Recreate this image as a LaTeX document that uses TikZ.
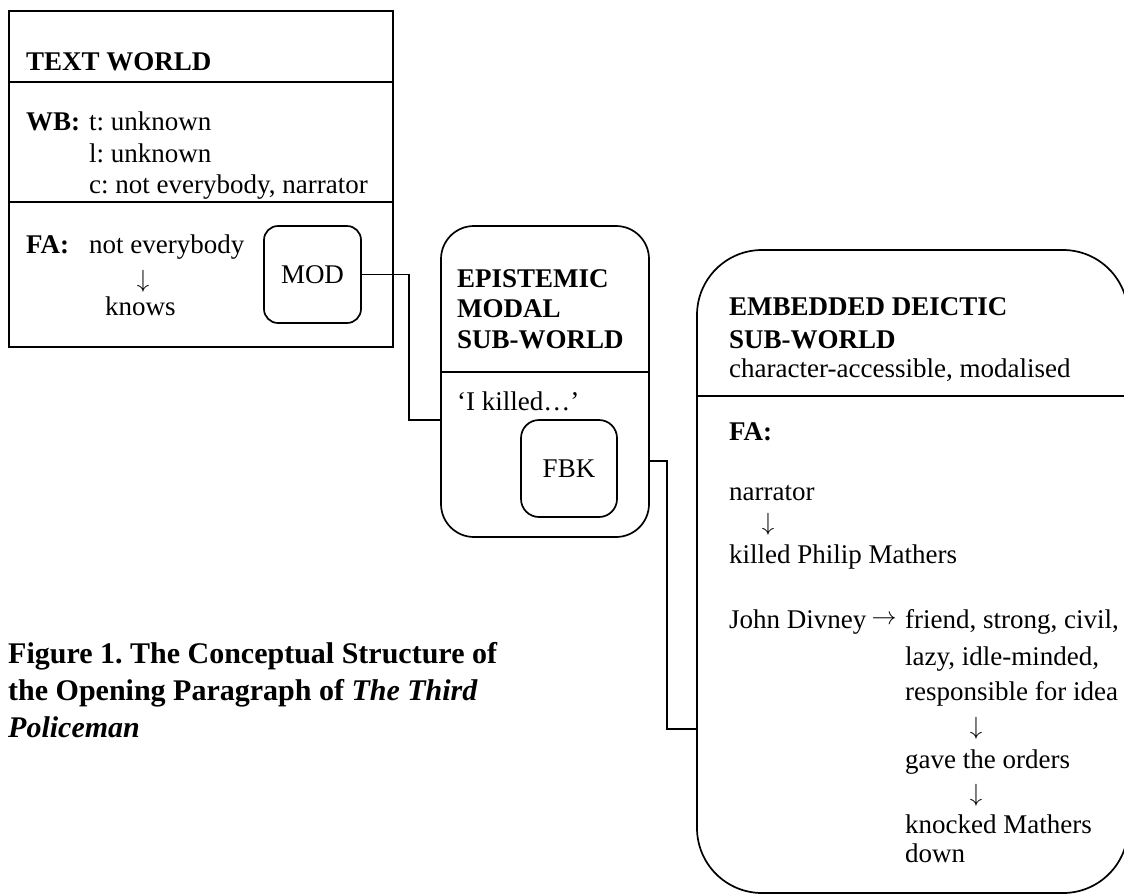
\documentclass[tikz,border=0pt]{standalone}
\usepackage{fontspec}
\setmainfont{Liberation Serif}
\frenchspacing
\tikzset{
  box/.style={draw, line width=1.7pt, inner sep=0pt},
  conn/.style={line width=1.6pt},
  divider/.style={line width=1.7pt},
  txt/.style={anchor=base west, inner sep=0pt, font=\fontsize{27}{31}\selectfont},
  hd/.style={anchor=base west, inner sep=0pt, font=\fontsize{27}{31}\selectfont\bfseries},
  arr/.style={inner sep=0pt, font=\fontsize{27}{31}\selectfont},
  captiontext/.style={anchor=base west, inner sep=0pt, font=\fontsize{30}{37}\selectfont\bfseries},
}
\begin{document}
\frenchspacing
\begin{tikzpicture}[x=1pt,y=-1pt]
\useasboundingbox (0,0) rectangle (1124,895);
\clip (0,0) rectangle (1124,895);

% ---------- TEXT WORLD ----------
\node[box, minimum width=384pt, minimum height=336pt] (tw) at (201,179) {};
\draw[divider] (tw.west |- 0,82) -- (tw.east |- 0,82);
\draw[divider] (tw.west |- 0,202) -- (tw.east |- 0,202);
\node[hd] (twh) at (26,70) {TEXT WORLD};
\node[hd] (wb) at (26,130) {WB:};
\node[txt] (wbt) at (89,130) {t: unknown};
\node[txt] (wbl) at (89,162) {l: unknown};
\node[txt] (wbc) at (89,193) {c: not everybody, narrator};
\node[hd] (fa1) at (26,253) {FA:};
\node[txt] (ne) at (89,253) {not everybody};
\node[arr, font=\fontsize{23}{27}\selectfont] (a1) at (143,281) {$\downarrow$};
\node[txt] (kn) at (105,315) {knows};
\node[box, rounded corners=14pt, minimum width=97pt, minimum height=97pt,
      font=\fontsize{27}{31}\selectfont] (mod) at (312.5,274.5) {MOD};

% ---------- EPISTEMIC MODAL SUB-WORLD ----------
\node[box, rounded corners=33pt, minimum width=208pt, minimum height=311pt] (epi) at (545,381.5) {};
\draw[divider] (epi.west |- 0,372) -- (epi.east |- 0,372);
\node[hd] (e1) at (457,287) {EPISTEMIC};
\node[hd] (e2) at (457,317) {MODAL};
\node[hd] (e3) at (457,348) {SUB-WORLD};
\node[txt] (ik) at (457,410) {‘I killed…’};
\node[box, rounded corners=18pt, minimum width=96pt, minimum height=97pt,
      font=\fontsize{27}{31}\selectfont] (fbk) at (569,468.5) {FBK};

% ---------- EMBEDDED DEICTIC SUB-WORLD ----------
\node[box, rounded corners=65pt, minimum width=431pt, minimum height=643pt] (emb) at (912.5,571.5) {};
\draw[divider] (emb.west |- 0,396) -- (emb.east |- 0,396);
\node[hd] (d1) at (729,315) {EMBEDDED DEICTIC};
\node[hd] (d2) at (729,348) {SUB-WORLD};
\node[txt] (d3) at (729,377) {character-accessible, modalised};
\node[hd] (fa2) at (729,440) {FA:};
\node[txt] (nar) at (729,500) {narrator};
\node[arr] (a2) at (768,524) {$\downarrow$};
\node[txt] (kpm) at (729,563) {killed Philip Mathers};
\node[txt] (jd) at (729,628) {John Divney};
\node[arr] (a3) at (884,620) {$\rightarrow$};
\node[txt] (f1) at (905,628) {friend, strong, civil,};
\node[txt] (f2) at (905,665) {lazy, idle-minded,};
\node[txt] (f3) at (905,700) {responsible for idea};
\node[arr] (a4) at (976,728) {$\downarrow$};
\node[txt] (go) at (905,768) {gave the orders};
\node[arr] (a5) at (976,795) {$\downarrow$};
\node[txt] (km) at (905,833) {knocked Mathers};
\node[txt] (dn) at (905,862) {down};

% ---------- connectors ----------
\draw[conn] (mod.east) -- ++(47,0) |- (epi.west |- 0,420);
\draw[conn] (epi.east |- 0,461) -- ++(17,0) |- (emb.west |- 0,729);

% ---------- caption ----------
\node[captiontext] (c1) at (8,663) {Figure 1. The Conceptual Structure of};
\node[captiontext] (c2) at (8,700) {the Opening Paragraph of \textit{The Third}};
\node[captiontext] (c3) at (8,737) {\textit{Policeman}};
\end{tikzpicture}
\end{document}
